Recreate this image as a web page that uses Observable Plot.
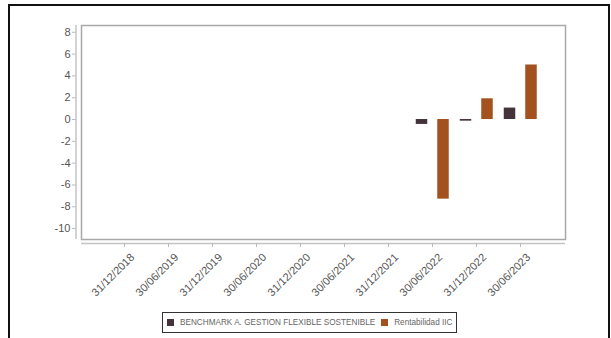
<!DOCTYPE html>
<html>
<head>
<meta charset="utf-8">
<script src="https://cdn.jsdelivr.net/npm/d3@7"></script>
<script src="https://cdn.jsdelivr.net/npm/@observablehq/plot@0.6"></script>
<style>
  body { margin: 0; background: #fff; font-family: "Liberation Sans", Arial, sans-serif; }
  #wrap { position: relative; width: 611px; height: 338px; overflow: hidden; }
  #border { position: absolute; left: 8px; top: 4px; width: 598px; height: 400px; border: 2px solid #111; }
  #chart { position: absolute; left: 0; top: 0; }
  #legend { position: absolute; left: 162px; top: 312px; width: 293px; height: 19px; border: 1px solid #333;
            display: flex; align-items: center; font-size: 8.2px; color: #666; white-space: nowrap; }
  .sw { display: inline-block; width: 7px; height: 7px; margin: 0 6px 0 4px; }
</style>
</head>
<body>
<div id="wrap">
  <div id="border"></div>
  <div id="chart"></div>
  <div id="legend"></div>
</div>
<script>
// Semi-annual return periods
const dates = ["31/12/2018", "30/06/2019", "31/12/2019", "30/06/2020", "31/12/2020",
               "30/06/2021", "31/12/2021", "30/06/2022", "31/12/2022", "30/06/2023"];
// Returns (%) per period; null where there is no value
const benchmark    = [null, null, null, null, null, null, null, -0.45, -0.15, 1.05];
const rentabilidad = [null, null, null, null, null, null, null, -7.3, 1.9, 5.0];
const seriesNames  = ["BENCHMARK A. GESTION FLEXIBLE SOSTENIBLE", "Rentabilidad IIC"];
const seriesColors = ["#45333b", "#a3521f"];
const yTicks = [-10, -8, -6, -4, -2, 0, 2, 4, 6, 8];

const toRows = (vals, name) => dates
  .map((date, i) => ({date, value: vals[i], series: name}))
  .filter(d => d.value != null);
const rowsB = toRows(benchmark, seriesNames[0]);
const rowsR = toRows(rentabilidad, seriesNames[1]);

const plot = Plot.plot({
  width: 611,
  height: 300,
  marginLeft: 81,
  marginRight: 46,
  marginTop: 25,
  marginBottom: 61,
  style: {fontFamily: "Liberation Sans, Arial, sans-serif", background: "transparent", color: "#555"},
  x: {type: "band", domain: dates, paddingInner: 0, paddingOuter: 0.44, align: 0.48, axis: null, label: null},
  y: {domain: [-11, 8.62], axis: null, label: null},
  color: {domain: seriesNames, range: seriesColors},
  marks: [
    Plot.frame({stroke: "#a8a8a8", strokeWidth: 1.5}),
    Plot.barY(rowsB, {x: "date", y: "value", fill: "series", insetLeft: 5.75, insetRight: 26.75}),
    Plot.barY(rowsR, {x: "date", y: "value", fill: "series", insetLeft: 27.25, insetRight: 5.25}),
    Plot.ruleY([-11], {dy: 4, stroke: "#c4c4c4", strokeWidth: 1.5}),
    Plot.axisY(yTicks, {anchor: "left", tickSize: 4, tickPadding: 2, dx: -5, stroke: "#bbb",
                        fill: "#555", fontSize: 11, label: null, tickFormat: d => String(d)}),
    // x tick marks below the axis line
    Plot.axisX({anchor: "bottom", tickSize: 4, dy: 4, stroke: "#bbb", label: null, tickFormat: () => ""}),
    // rotated date labels
    Plot.axisX({anchor: "bottom", tickSize: 0, tickPadding: 0, tickRotate: -45, dx: 8, dy: 16,
                fill: "#555", fontSize: 11, label: null})
  ]
});

// y axis line, offset to the left of the frame
const [yb, yt] = plot.scale("y").range;
const xl = plot.scale("x").range[0] - 5;
d3.select(plot).append("line")
  .attr("x1", xl).attr("x2", xl).attr("y1", yt).attr("y2", yb)
  .attr("stroke", "#c4c4c4").attr("stroke-width", 1.5);

document.getElementById("chart").appendChild(plot);

// legend
const legend = d3.select("#legend");
seriesNames.forEach((name, i) => {
  legend.append("span").attr("class", "sw").style("background", seriesColors[i])
    .style("margin-left", i === 0 ? "4px" : "6px");
  legend.append("span").text(name);
});
</script>
</body>
</html>
